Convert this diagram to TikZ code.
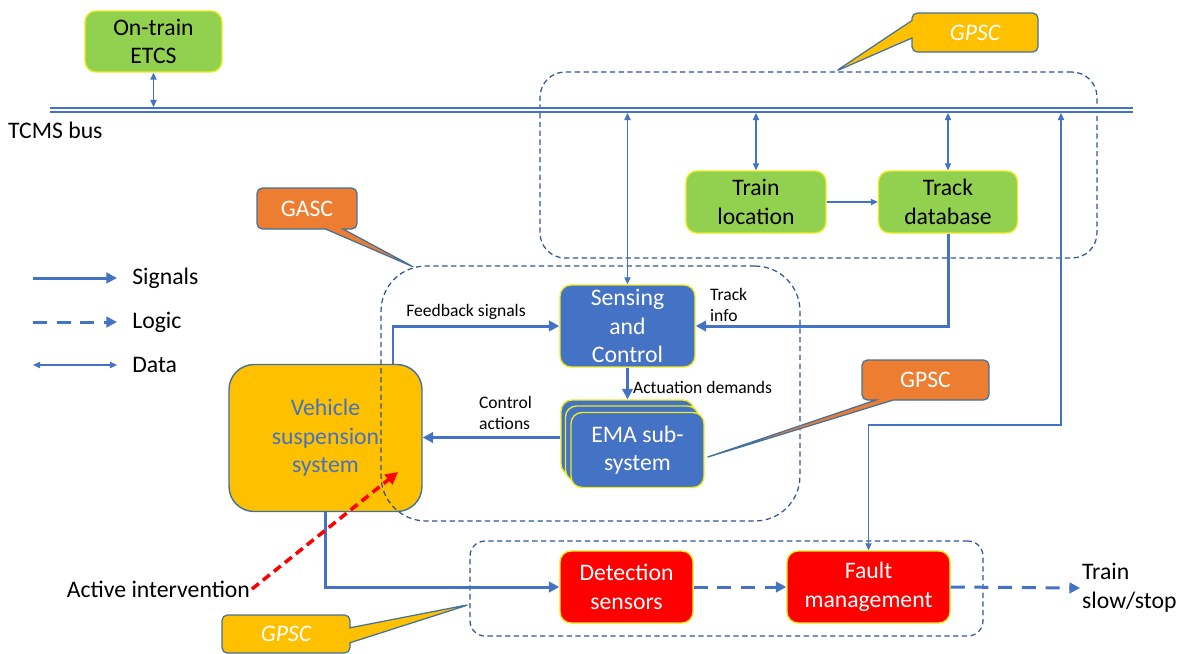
\documentclass[tikz,border=0pt]{standalone}
\usepackage{fontspec}
\setmainfont{Carlito}
\usetikzlibrary{arrows.meta,positioning,calc,shapes.callouts}
\definecolor{sigblue}{RGB}{68,114,196}
\definecolor{grpline}{RGB}{47,85,151}
\definecolor{leaf}{RGB}{146,208,80}
\definecolor{boxedge}{RGB}{235,235,30}
\definecolor{gold}{RGB}{255,192,0}
\definecolor{rust}{RGB}{237,125,49}
\definecolor{alarm}{RGB}{255,0,0}
\definecolor{noteedge}{RGB}{65,113,156}
\tikzset{
  box/.style={draw=boxedge,line width=0.8pt,rounded corners=0.22cm,align=center,
    font=\fontsize{13.5}{16.3}\selectfont,inner sep=0pt},
  gbox/.style={box,fill=leaf,text=black},
  bbox/.style={box,fill=sigblue,text=white},
  rbox/.style={box,fill=alarm,text=white},
  grp/.style={draw=grpline,line width=0.7pt,dash pattern=on 3pt off 2pt,inner sep=0pt},
  bus/.style={draw=sigblue,line width=0.85pt,double=white,double distance=1.4pt},
  sig/.style={draw=sigblue,line width=1.7pt,-{Triangle[length=6pt,width=6pt]}},
  logic/.style={sig,dash pattern=on 8pt off 5.5pt},
  data/.style={draw=sigblue,line width=0.6pt,
    {Triangle[length=4pt,width=3.6pt]}-{Triangle[length=4pt,width=3.6pt]}},
  link/.style={draw=sigblue,line width=0.6pt,-{Triangle[length=4pt,width=3.6pt]}},
  push/.style={draw=alarm,line width=2pt,dash pattern=on 5pt off 3pt,
    -{Triangle[length=7pt,width=7pt]}},
  lbl/.style={font=\fontsize{10}{12}\selectfont,inner sep=1pt,align=left},
  txt/.style={font=\fontsize{13.5}{16.3}\selectfont,inner sep=1pt,align=left},
  note/.style={rectangle callout,draw=noteedge,line width=0.7pt,rounded corners=3pt,
    text=white,font=\fontsize{13.5}{16}\selectfont,callout pointer width=0.35cm,inner sep=0pt},
}

\begin{document}
\begin{tikzpicture}[x=0.02cm,y=-0.02cm]
  \useasboundingbox (0,0) rectangle (1190,653);

  % vehicle first, the GASC frame runs over it
  \node[box,fill=gold,draw=noteedge,text=sigblue,rounded corners=0.5cm,
    minimum width=3.86cm,minimum height=2.94cm] (veh) at (325.5,438) {Vehicle\\suspension\\system};

  % frames
  \node[grp,rounded corners=0.5cm,minimum width=11.14cm,minimum height=3.72cm] (gTop) at (818.5,165) {};
  \node[grp,rounded corners=0.9cm,minimum width=8.38cm,minimum height=5.1cm] (gMid) at (590.5,393.5) {};
  \node[grp,rounded corners=0.3cm,minimum width=10.26cm,minimum height=1.9cm] (gBot) at (726.5,588.5) {};

  % bus
  \coordinate (busL) at (50,110);
  \coordinate (busR) at (1133,110);
  \coordinate (busT) at (0,107);
  \coordinate (busB) at (0,113);
  \draw[bus] (busL) -- (busR);
  \node[txt,anchor=west] (tcms) at (6,130) {TCMS bus};

  % boxes
  \node[gbox,minimum width=2.74cm,minimum height=1.22cm] (etcs) at (153.5,41.5) {On-train\\ETCS};
  \node[gbox,minimum width=2.8cm,minimum height=1.24cm] (loc) at (756,202) {Train\\location};
  \node[gbox,minimum width=2.78cm,minimum height=1.24cm] (trk) at (948,202) {Track\\database};
  \node[bbox,minimum width=2.7cm,minimum height=1.64cm] (sens) at (627.5,326) {Sensing\\and\\Control};
  \foreach \n/\cx/\cy in {1/627.5/437.5,2/632/443.5}
    \node[bbox,minimum width=2.66cm,minimum height=1.5cm] (ema\n) at (\cx,\cy) {};
  \node[bbox,minimum width=2.66cm,minimum height=1.5cm] (ema3) at (637.5,450) {EMA sub-\\system};
  \node[rbox,minimum width=2.66cm,minimum height=1.44cm] (det) at (626.5,587) {Detection\\sensors};
  \node[rbox,minimum width=3.26cm,minimum height=1.44cm] (flt) at (868.5,587) {Fault\\management};

  % data links
  \draw[data] (etcs.south) -- (etcs.south |- busT);
  \foreach \b in {sens,loc,trk}
    \draw[data] (\b.north) -- (\b.north |- busB);
  \coordinate (ret) at (1061,425);
  \draw[data] (flt.north) |- (ret) -- (ret |- busB);
  \draw[link] (loc.east) -- (trk.west);

  % signals
  \coordinate (fb) at (393,0);
  \draw[sig] (veh.north -| fb) |- (sens.west);
  \draw[sig] (trk.south) |- (sens.east);
  \draw[sig] (sens.south) -- (sens.south |- ema1.north);
  \draw[sig] (ema1.west) -- (ema1.west -| veh.east);
  \draw[sig] (veh.south) |- (det.west);

  % logic
  \node[txt,anchor=west] (stop) at (1080,588) {Train\\slow/stop};
  \draw[logic] (det.east) -- (flt.west);
  \draw[logic] (flt.east) -- (stop.west);

  % labels
  \node[lbl] (lfb) at (466,312) {Feedback signals};
  \node[lbl,anchor=west] (ltr) at (708,305) {Track\\info};
  \node[lbl,anchor=west] (lact) at (631,387) {Actuation demands};
  \node[lbl,anchor=west] (lctl) at (477,413) {Control\\actions};

  % active intervention
  \node[txt,anchor=east] (act) at (252,589) {Active intervention};
  \coordinate (hit) at (398,472);
  \draw[push] (act.east) -- (hit);

  % legend
  \foreach \y/\st/\t in {278/sig/Signals,322/logic/Logic,365/data/Data}{
    \coordinate (ls\t) at (33,\y);
    \node[txt,anchor=west,inner xsep=0.3cm] (lg\t) at (117,\y) {\t};
    \draw[\st] (ls\t) -- (lg\t.west);
  }

  % callouts
  \node[note,fill=gold,minimum width=2.52cm,minimum height=0.78cm,
    callout absolute pointer={($(gTop.north)+(17,0)$)}] (cTop) at (975,32.5) {\itshape GPSC};
  \node[note,fill=rust,minimum width=2cm,minimum height=0.82cm,
    callout absolute pointer={($(gMid.north west)+(34,2)$)}] (cMid) at (307,208.5) {GASC};
  \node[note,fill=rust,minimum width=2.54cm,minimum height=0.8cm,
    callout absolute pointer={($(ema3.east)+(0,8)$)}] (cEma) at (925.5,380) {GPSC};
  \node[note,fill=gold,minimum width=2.56cm,minimum height=0.76cm,callout pointer width=0.3cm,
    callout absolute pointer={($(gBot.west)+(0,16)$)}] (cBot) at (286,634) {\itshape GPSC};
\end{tikzpicture}
\end{document}
